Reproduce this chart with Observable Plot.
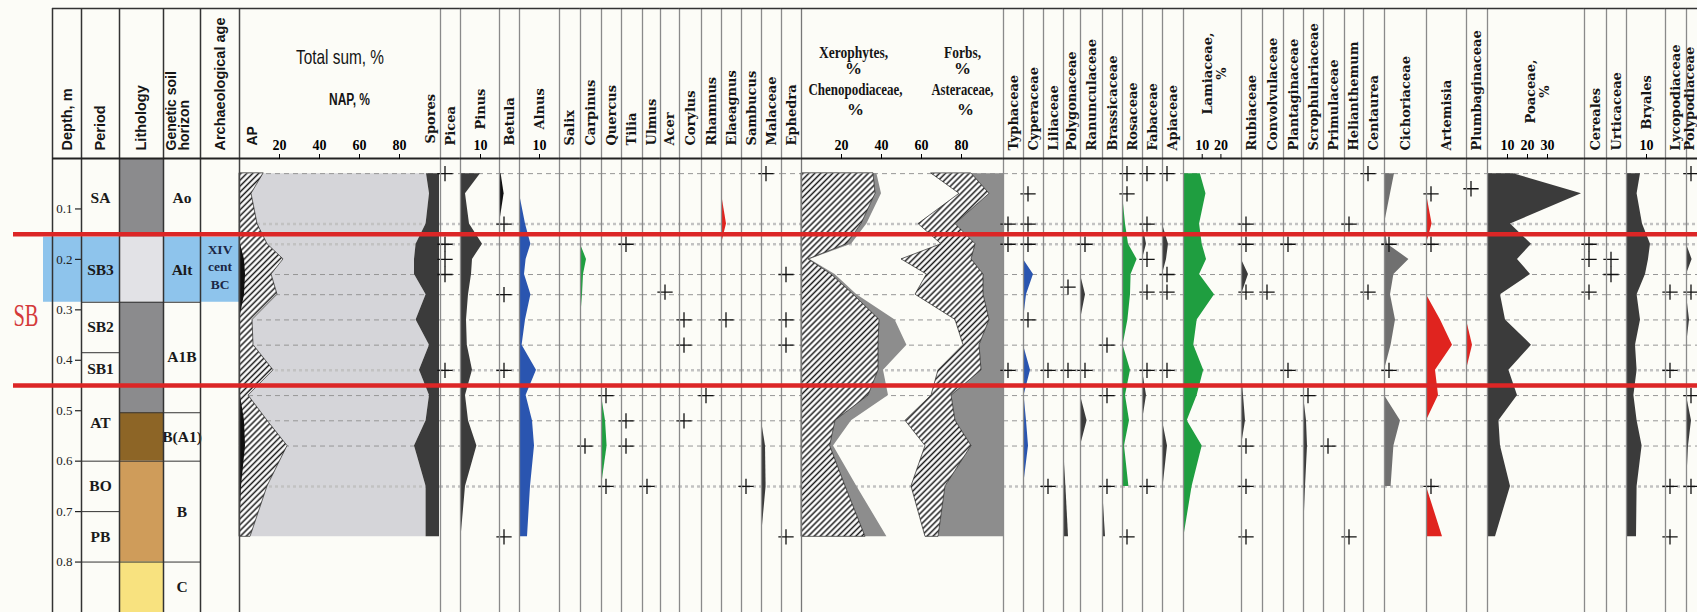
<!DOCTYPE html>
<html>
<head>
<meta charset="utf-8">
<script src="https://cdn.jsdelivr.net/npm/d3@7"></script>
<script src="https://cdn.jsdelivr.net/npm/@observablehq/plot@0.6"></script>
<style>
  html, body { margin: 0; padding: 0; background: #fcfcf7; }
  #chart { position: relative; width: 1697px; height: 612px; overflow: hidden; }
  #row { position: absolute; left: 0; top: 0; display: flex; }
  #row svg { flex: 0 0 auto; display: block; }
  #overlay { position: absolute; left: 0; top: 0; pointer-events: none; }
</style>
</head>
<body>
<svg width="0" height="0" style="position:absolute">
  <defs>
    <pattern id="hatch" patternUnits="userSpaceOnUse" width="4.2" height="4.2" patternTransform="rotate(45)">
      <rect width="4.2" height="4.2" fill="#ffffff"></rect>
      <line x1="2.1" y1="0" x2="2.1" y2="4.2" stroke="#1a1a1a" stroke-width="1.5"></line>
    </pattern>
  </defs>
</svg>
<div id="chart"><div id="row"></div><div id="overlay"></div></div>
<script>
// ---------------- DATA ----------------
const n = null;
// sample depths, m
const depths = [0.03, 0.07, 0.13, 0.17, 0.20, 0.23, 0.27, 0.32, 0.37, 0.42, 0.47, 0.52, 0.57, 0.65, 0.75];
const dashedDepths = [0.03, 0.23, 0.27, 0.32, 0.37, 0.47, 0.52, 0.57];
const dottedDepths = [0.13, 0.17, 0.42, 0.65];
const depthTicks = [0.1, 0.2, 0.3, 0.4, 0.5, 0.6, 0.7, 0.8];
const sbBounds = [0.15, 0.45];
const sbBand = [0.156, 0.285];

const periodNames = ["SA", "SB3", "SB2", "SB1", "AT", "BO", "PB"];
const periodTops = [0, 0.156, 0.285, 0.385, 0.45, 0.60, 0.70];
const periodBottoms = [0.156, 0.285, 0.385, 0.45, 0.60, 0.70, 0.80];
const lithoTypes = ["grey", "light grey", "grey", "dark brown", "brown", "yellow"];
const lithoTops = [0, 0.156, 0.285, 0.504, 0.60, 0.80];
const lithoBottoms = [0.156, 0.285, 0.504, 0.60, 0.80, 0.90];
const horizonNames = ["Ao", "Alt", "A1B", "B(A1)", "B", "C"];
const horizonTops = [0, 0.156, 0.285, 0.504, 0.60, 0.80];
const horizonBottoms = [0.156, 0.285, 0.504, 0.60, 0.80, 0.90];
const archLabels = ["XIV\ncent\nBC"];
const archTops = [0.156];
const archBottoms = [0.285];

// Total sum, %
const ap = [12, 6, 9, 14, 22, 16, 19, 6.5, 7, 17, 4.5, 14, 24, 14, 5.5];
const apDark = [0, 0, 0, 0.5, 2.5, 3, 2.5, 0, 0, 0, 0.5, 2.5, 3, 1, 0];
const spores = [6.5, 5, 6.7, 11.7, 12.5, 12.5, 6.7, 11.7, 5, 10, 5, 6.7, 12.5, 6.7, 6.7];
// Xerophytes / Forbs, %
const chenopodiaceae = [36, 37, 30, 22.7, 3.5, 15, 26, 39, 38.5, 38.5, 33.5, 17, 14.3, 22, 32];
const xerophytes = [37.7, 40, 32.7, 25, 4.3, 16.8, 27.7, 46.8, 52.7, 41, 43.5, 25, 16, 27.7, 42.7];
const forbs = [35, 21, 41.5, 30, 50, 37.3, 43, 23, 19, 31.5, 35, 48, 38, 45, 38];
const asteraceae = [20, 15, 18.5, 17, 35, 28.3, 34, 17, 8, 21.5, 10, 25, 23, 17, 6.5];

// taxa, % (null = absent) and depths of "+" finds
const piceaRare = [0.03, 0.17, 0.20, 0.23, 0.42];
const pinus = [10, 2.5, 4.5, 11, 6, 5.5, 4, 3, 3.4, 6, 2.5, 4, 8.2, 2.5, 0.3];
const betula = [0.8, 2.3, 0, n, n, n, n, n, n, n, n, n, n, n, n];
const betulaRare = [0.13, 0.27, 0.42, 0.75];
const alnus = [n, 0, 3, 5.7, 3.3, 2.5, 5.7, 3, 1.3, 8.5, 3.3, 6.5, 7.5, 5.5, 4];
const carpinus = [n, n, n, 0, 3, 1.5, 1, 0, n, n, n, n, n, n, n];
const carpinusRare = [0.57];
const quercus = [n, n, n, n, n, n, n, n, n, n, 0, 2, 2.8, 0, n];
const quercusRare = [0.47, 0.65];
const tiliaRare = [0.17, 0.52, 0.57];
const ulmusRare = [0.65];
const acerRare = [0.265];
const corylusRare = [0.32, 0.37, 0.52];
const rhamnusRare = [0.47];
const elaeagnus = [n, 0, 2.5, 0, n, n, n, n, n, n, n, n, n, n, n];
const elaeagnusRare = [0.32];
const sambucusRare = [0.65];
const malaceae = [n, n, n, n, n, n, n, n, n, n, n, 0, 2, 2.3, 0];
const malaceaeRare = [0.03];
const ephedraRare = [0.23, 0.32, 0.37, 0.75];

const typhaceaeRare = [0.13, 0.17, 0.42];
const cyperaceae = [n, n, n, n, 0, 5, 1.5, 0, 0, 3.5, 0.3, 1.5, 2.5, 0, n];
const cyperaceaeRare = [0.07, 0.13, 0.17, 0.32];
const liliaceaeRare = [0.42, 0.65];
const polygonaceae = [n, n, n, n, n, n, n, n, n, n, n, n, 0, 1.2, 2.5];
const polygonaceaeRare = [0.255, 0.42];
const ranunculaceae = [n, n, n, n, n, 0, 2.5, 0, n, n, 0, 3.3, 0, n, n];
const ranunculaceaeRare = [0.17, 0.42];
const brassicaceae = [n, n, n, n, n, n, n, n, n, n, n, n, n, 0, 1.5];
const brassicaceaeRare = [0.37, 0.47, 0.65];
const rosaceae = [n, 0, 1.5, 3, 7.3, 4.3, 4, 2.7, 0.3, 4, 1.5, 3.5, 1, 3.2, n];
const rosaceaeRare = [0.03, 0.07, 0.75];
const fabaceae = [n, n, 0, 2, 0, n, n, n, n, 0, 2, 0, n, n, n];
const fabaceaeRare = [0.03, 0.13, 0.20, 0.265, 0.42, 0.65];
const apiaceae = [n, n, 0, 3, 2, 0, n, n, n, n, n, 0, 2.5, 0.3, n];
const apiaceaeRare = [0.03, 0.23, 0.265, 0.42];
const lamiaceae = [9, 12, 8.6, 10, 12.3, 8.6, 16.6, 7.3, 5.5, 10.8, 7.3, 2, 10, 4.6, 0.2];
const rubiaceae = [n, n, n, n, 0, 3.5, 0, n, n, 0, 1, 2, 0, n, n];
const rubiaceaeRare = [0.13, 0.17, 0.265, 0.57, 0.65, 0.75];
const convolvulaceaeRare = [0.265];
const plantaginaceaeRare = [0.17, 0.42];
const scrophulariaceae = [n, n, n, n, n, n, n, n, n, n, 0, 1.5, 2, 1, 0];
const scrophulariaceaeRare = [0.47];
const primulaceaeRare = [0.57];
const helianthemumRare = [0.13, 0.75];
const centaureaRare = [0.03, 0.265];
const cichoriaceae = [5, 3, 0, 1.5, 12.2, 4.7, 3, 5.5, 3.3, 0, 0, 8, 4.7, 3.3, n];
const cichoriaceaeRare = [0.17, 0.42];
const artemisia = [n, 0, 2.8, 0, n, n, 0, 7, 13, 4.5, 6, 0, n, 0, 8];
const artemisiaRare = [0.07, 0.17, 0.65];
const plumbaginaceae = [n, n, n, n, n, n, n, 0, 3, 0, n, n, n, n, n];
const plumbaginaceaeRare = [0.06];
const poaceae = [13, 47, 11.5, 22, 15, 21.5, 6.5, 9, 22, 10.7, 15, 5.7, 6.5, 11.5, 4];
const cerealesRare = [0.17, 0.20, 0.265];
const urticaceaeRare = [0.20, 0.23];
const bryales = [7, 5.3, 8, 12, 11, 9.5, 5.3, 7, 4.5, 5.3, 3.7, 5.3, 7.8, 5.3, 5];
const lycopodiaceaeRare = [0.265, 0.42, 0.65, 0.75];
const polypodiaceae = [n, n, n, 0, 2.8, 0, 0, 1.5, 0, n, 0, 2.5, 1, 0, n];
const polypodiaceaeRare = [0.03, 0.265, 0.47, 0.65];

// ---------------- STYLE / LAYOUT ----------------
const H = 612, TOP = 158, HEADER_TOP = 8;
const DARK = "#3b3b3b", BLACK = "#101010", BLUE = "#2a55b0", GREEN = "#1f9e40",
      RED = "#e0241f", MID = "#707070", GREY = "#8d8d8d", NAPGREY = "#d5d5d9", BAND = "#8ec4ec";
const lithoColors = {"grey": "#8b8b8d", "light grey": "#e2e2e6", "dark brown": "#8d6526", "brown": "#cf9c5a", "yellow": "#f8e27f"};

const treeCols = [
  {name: "Picea", width: 20, rare: piceaRare},
  {name: "Pinus", width: 39, values: pinus, fill: DARK, ticks: [10]},
  {name: "Betula", width: 20, values: betula, fill: BLACK, rare: betulaRare},
  {name: "Alnus", width: 40, values: alnus, fill: BLUE, ticks: [10]},
  {name: "Salix", width: 21},
  {name: "Carpinus", width: 21, values: carpinus, fill: GREEN, rare: carpinusRare},
  {name: "Quercus", width: 20, values: quercus, fill: GREEN, rare: quercusRare},
  {name: "Tilia", width: 21, rare: tiliaRare},
  {name: "Ulmus", width: 18, rare: ulmusRare},
  {name: "Acer", width: 19, rare: acerRare},
  {name: "Corylus", width: 22, rare: corylusRare},
  {name: "Rhamnus", width: 20, rare: rhamnusRare},
  {name: "Elaeagnus", width: 20, values: elaeagnus, fill: RED, rare: elaeagnusRare},
  {name: "Sambucus", width: 20, rare: sambucusRare},
  {name: "Malaceae", width: 20, values: malaceae, fill: DARK, rare: malaceaeRare},
  {name: "Ephedra", width: 20, rare: ephedraRare}
];
const herbCols = [
  {name: "Typhaceae", width: 20, rare: typhaceaeRare},
  {name: "Cyperaceae", width: 20, values: cyperaceae, fill: BLUE, rare: cyperaceaeRare},
  {name: "Liliaceae", width: 20, rare: liliaceaeRare},
  {name: "Polygonaceae", width: 17, values: polygonaceae, fill: DARK, rare: polygonaceaeRare},
  {name: "Ranunculaceae", width: 22, values: ranunculaceae, fill: DARK, rare: ranunculaceaeRare},
  {name: "Brassicaceae", width: 20, values: brassicaceae, fill: DARK, rare: brassicaceaeRare},
  {name: "Rosaceae", width: 20, values: rosaceae, fill: GREEN, rare: rosaceaeRare},
  {name: "Fabaceae", width: 20, values: fabaceae, fill: DARK, rare: fabaceaeRare},
  {name: "Apiaceae", width: 21, values: apiaceae, fill: DARK, rare: apiaceaeRare},
  {name: "Lamiaceae", width: 58, xmax: 31, values: lamiaceae, fill: GREEN, ticks: [10, 20], label: "Lamiaceae,\n%", labelX: 16.6, labelY: 73},
  {name: "Rubiaceae", width: 21, values: rubiaceae, fill: DARK, rare: rubiaceaeRare},
  {name: "Convolvulaceae", width: 21, rare: convolvulaceaeRare},
  {name: "Plantaginaceae", width: 20, rare: plantaginaceaeRare},
  {name: "Scrophulariaceae", width: 20, values: scrophulariaceae, fill: DARK, rare: scrophulariaceaeRare},
  {name: "Primulaceae", width: 21, rare: primulaceaeRare},
  {name: "Helianthemum", width: 19, rare: helianthemumRare},
  {name: "Centaurea", width: 21, rare: centaureaRare},
  {name: "Cichoriaceae", width: 42, values: cichoriaceae, fill: MID, rare: cichoriaceaeRare},
  {name: "Artemisia", width: 40, values: artemisia, fill: RED, rare: artemisiaRare},
  {name: "Plumbaginaceae", width: 21, values: plumbaginaceae, fill: RED, rare: plumbaginaceaeRare},
  {name: "Poaceae", width: 97, values: poaceae, fill: DARK, ticks: [10, 20, 30], label: "Poaceae,\n%", labelX: 25, labelY: 91},
  {name: "Cereales", width: 22, rare: cerealesRare},
  {name: "Urticaceae", width: 20, rare: urticaceaeRare},
  {name: "Bryales", width: 39, values: bryales, fill: DARK, ticks: [10]},
  {name: "Lycopodiaceae", width: 21, rare: lycopodiaceaeRare},
  {name: "Polypodiaceae", width: 11, values: polypodiaceae, fill: DARK, rare: polypodiaceaeRare, labelDx: -2}
];

// ---------------- HELPERS ----------------
const rowsOf = (cols) => depths.map((depth, i) => {
  const r = {depth};
  for (const [k, arr] of Object.entries(cols)) r[k] = arr[i] ?? NaN;
  return r;
});

function columnPlot(width, xmax, marks, marginLeft = 0) {
  return Plot.plot({
    width, height: H, marginTop: TOP, marginBottom: 0, marginLeft, marginRight: 0,
    x: {domain: [0, xmax], axis: null},
    y: {domain: [0, 0.9], reverse: true, axis: null},
    style: {background: "transparent", overflow: "visible"},
    marks
  });
}

const frameMarks = (stroke, sw) => [
  Plot.ruleX([0], {insetTop: -(TOP - HEADER_TOP), stroke, strokeWidth: sw}),
  Plot.ruleY([0], {dy: -(TOP - HEADER_TOP), stroke: "#333", strokeWidth: 1.5}),
  Plot.ruleY([0], {stroke: "#222", strokeWidth: 2})
];

const vlabel = (text, o = {}) => Plot.text([text], {
  text: d => d, x: o.x, frameAnchor: "top", dy: o.dy ?? -8, dx: o.dx ?? 0, rotate: -90,
  textAnchor: o.anchor ?? "start", lineAnchor: "middle", lineHeight: o.lineHeight ?? 1.0,
  fontFamily: o.font ?? "DejaVu Serif", fontSize: o.size ?? 13, fontWeight: o.weight ?? "bold", fill: "#151515"
});

const htext = (text, o = {}) => Plot.text([text], {
  text: d => d, x: o.x, frameAnchor: "top", dy: o.dy, fontFamily: o.font ?? "Liberation Serif",
  fontSize: o.size ?? 17, fontWeight: o.weight ?? "bold", fill: "#151515"
});

const tickAxis = (ticks) => Plot.axisX(ticks, {
  anchor: "top", tickSize: 5, tickPadding: 4, label: null,
  fontFamily: "Liberation Serif", fontWeight: "bold", fontSize: 14
});

const sampleLines = () => [
  Plot.ruleY(dashedDepths, {stroke: "#969696", strokeWidth: 1, strokeDasharray: "5,4"}),
  Plot.ruleY(dottedDepths, {stroke: "#c2c2c2", strokeWidth: 2.5, strokeDasharray: "3,3"})
];

const rareMarks = (rare) => Plot.dot(rare, {x: 0, y: d => d, dx: 4.5, symbol: "plus", r: 5, stroke: "#111", strokeWidth: 1.3});

const band = () => Plot.rect([sbBand], {y1: d => d[0], y2: d => d[1], fill: BAND});

const plots = [];

// left blank margin with part of the highlight band
plots.push(columnPlot(52, 1, [band()], 43));

// Depth column
plots.push(columnPlot(29, 29, [
  band(),
  Plot.tickY(depthTicks, {y: d => d, insetLeft: 23, stroke: "#222", strokeWidth: 1.2}),
  Plot.text(depthTicks, {y: d => d, text: d => d.toFixed(1), frameAnchor: "right", dx: -9, textAnchor: "end",
    fontFamily: "Liberation Serif", fontSize: 13, fill: "#222"}),
  frameMarks("#333", 1.5),
  vlabel("Depth, m", {font: "Liberation Sans", size: 14.5})
]));

// Period column
const periodRows = periodNames.map((name, i) => ({name, top: periodTops[i], bottom: periodBottoms[i]}));
plots.push(columnPlot(38, 38, [
  band(),
  Plot.ruleY(periodBottoms.filter(b => b !== sbBand[0]), {y: d => d, stroke: "#333", strokeWidth: 1}),
  Plot.text(periodRows, {y: d => (d.top + d.bottom) / 2, text: "name", fontFamily: "Liberation Serif",
    fontWeight: "bold", fontSize: 15.5, fill: "#1a1a1a"}),
  frameMarks("#333", 1.5),
  vlabel("Period", {font: "Liberation Sans", size: 14.5})
]));

// Lithology column
const lithoRows = lithoTypes.map((type, i) => ({type, top: lithoTops[i], bottom: lithoBottoms[i]}));
plots.push(columnPlot(44, 44, [
  Plot.rect(lithoRows, {y1: "top", y2: "bottom", fill: d => lithoColors[d.type]}),
  Plot.ruleY(lithoBottoms.filter(b => b !== sbBand[0] && b < 0.9), {y: d => d, stroke: "#333", strokeWidth: 1}),
  frameMarks("#333", 1.5),
  vlabel("Lithology", {font: "Liberation Sans", size: 14.5})
]));

// Genetic soil horizon column
const horizonRows = horizonNames.map((name, i) => ({name, top: horizonTops[i], bottom: horizonBottoms[i]}));
plots.push(columnPlot(37, 37, [
  band(),
  Plot.ruleY(horizonBottoms.filter(b => b !== sbBand[0] && b < 0.9), {y: d => d, stroke: "#333", strokeWidth: 1}),
  Plot.text(horizonRows, {y: d => (d.top + d.bottom) / 2, text: "name", fontFamily: "Liberation Serif",
    fontWeight: "bold", fontSize: 15.5, fill: "#1a1a1a"}),
  frameMarks("#333", 1.5),
  vlabel("Genetic soil\nhorizon", {font: "Liberation Sans", size: 14, dx: -4, lineHeight: 0.95})
]));

// Archaeological age column
const archRows = archLabels.map((label, i) => ({label, top: archTops[i], bottom: archBottoms[i]}));
plots.push(columnPlot(39, 39, [
  band(),
  Plot.text(archRows, {y: d => (d.top + d.bottom) / 2, dy: -4, text: "label", lineHeight: 1.3,
    fontFamily: "Liberation Serif", fontWeight: "bold", fontSize: 13.5, fill: "#1c2745"}),
  frameMarks("#333", 1.5),
  vlabel("Archaeological age", {font: "Liberation Sans", size: 14.5})
]));

// Total sum panel
const totalRows = rowsOf({ap, apDark, spores});
plots.push(columnPlot(201, 100.5, [
  Plot.areaX(totalRows, {y: "depth", x1: "ap", x2: d => 100 - d.spores, fill: NAPGREY}),
  sampleLines(),
  Plot.areaX(totalRows, {y: "depth", x1: 0, x2: "ap", fill: "url(#hatch)", stroke: "#222", strokeWidth: 0.7}),
  Plot.areaX(totalRows, {y: "depth", x1: 0, x2: "apDark", fill: BLACK}),
  Plot.areaX(totalRows, {y: "depth", x1: d => 100 - d.spores, x2: 100, fill: DARK}),
  frameMarks("#444", 1.5),
  htext("Total sum, %", {dy: -109, font: "Liberation Sans", size: 21, weight: "normal"}),
  htext("NAP, %", {x: 55, dy: -65, font: "Liberation Sans", size: 16}),
  vlabel("AP", {x: 6.5, dy: -13, font: "Liberation Sans", size: 14}),
  vlabel("Spores", {x: 95.5, dy: -15}),
  tickAxis([20, 40, 60, 80])
]));

function taxonPlot(col, labelDy, borderColor) {
  const xmax = col.xmax ?? col.width / 2;
  const marks = [sampleLines()];
  if (col.values) {
    marks.push(Plot.areaX(rowsOf({v: col.values}), {y: "depth", x1: 0, x2: "v", fill: col.fill}));
  }
  if (col.rare) marks.push(rareMarks(col.rare));
  marks.push(frameMarks(borderColor, 1.3));
  if (col.label) {
    marks.push(vlabel(col.label, {x: col.labelX, dy: col.labelY - TOP, anchor: "middle", lineHeight: 1.05}));
  } else if (col.ticks) {
    marks.push(vlabel(col.name, {x: col.ticks[0], dy: -29}));
  } else {
    marks.push(vlabel(col.name, {dy: labelDy, dx: col.labelDx ?? 0}));
  }
  if (col.ticks) marks.push(tickAxis(col.ticks));
  return columnPlot(col.width, xmax, marks);
}

for (const col of treeCols) plots.push(taxonPlot(col, -13, "#8a8a8a"));

// Xerophytes / Forbs panel
const xeroRows = rowsOf({chenopodiaceae, xerophytes, forbs, asteraceae});
plots.push(columnPlot(202, 101, [
  sampleLines(),
  Plot.areaX(xeroRows, {y: "depth", x1: "chenopodiaceae", x2: "xerophytes", fill: GREY}),
  Plot.areaX(xeroRows, {y: "depth", x1: 0, x2: "chenopodiaceae", fill: "url(#hatch)", stroke: "#222", strokeWidth: 0.7}),
  Plot.areaX(xeroRows, {y: "depth", x1: d => 100 - d.forbs + d.asteraceae, x2: 101, fill: GREY}),
  Plot.areaX(xeroRows, {y: "depth", x1: d => 100 - d.forbs, x2: d => 100 - d.forbs + d.asteraceae,
    fill: "url(#hatch)", stroke: "#222", strokeWidth: 0.7}),
  frameMarks("#777", 1.3),
  htext("Xerophytes,", {x: 26, dy: -113}),
  htext("%", {x: 26, dy: -97}),
  htext("Chenopodiaceae,", {x: 27, dy: -76}),
  htext("%", {x: 27, dy: -56}),
  htext("Forbs,", {x: 80.5, dy: -113}),
  htext("%", {x: 80.5, dy: -97}),
  htext("Asteraceae,", {x: 80.5, dy: -76}),
  htext("%", {x: 82, dy: -56}),
  tickAxis([20, 40, 60, 80])
]));

for (const col of herbCols) plots.push(taxonPlot(col, -8, "#8a8a8a"));

const row = document.getElementById("row");
for (const p of plots) row.appendChild(p);

// overlay: SB boundaries
const overlay = Plot.plot({
  width: 1697, height: H, marginTop: TOP, marginBottom: 0, marginLeft: 13, marginRight: 0,
  y: {domain: [0, 0.9], reverse: true, axis: null},
  style: {background: "transparent", overflow: "visible"},
  marks: [
    Plot.ruleY(sbBounds, {y: d => d, stroke: "#dc2626", strokeWidth: 4.5}),
    Plot.text(["SB"], {text: d => d, y: (sbBounds[0] + sbBounds[1]) / 2, dy: 6, frameAnchor: "left",
      textAnchor: "start", fontFamily: "Liberation Serif", fontSize: 31, fill: "#d43a3a"})
  ]
});
document.getElementById("overlay").appendChild(overlay);

// condensed lettering as in the original
const condensed = {"SB": 25, "Total sum, %": 88, "NAP, %": 41, "Xerophytes,": 69,
  "Chenopodiaceae,": 94, "Forbs,": 37, "Asteraceae,": 62};
d3.selectAll("#chart text").each(function () {
  const t = this.textContent;
  if (condensed[t] && this.children.length === 0) {
    this.setAttribute("textLength", condensed[t]);
    this.setAttribute("lengthAdjust", "spacingAndGlyphs");
  }
});
</script>
</body>
</html>
